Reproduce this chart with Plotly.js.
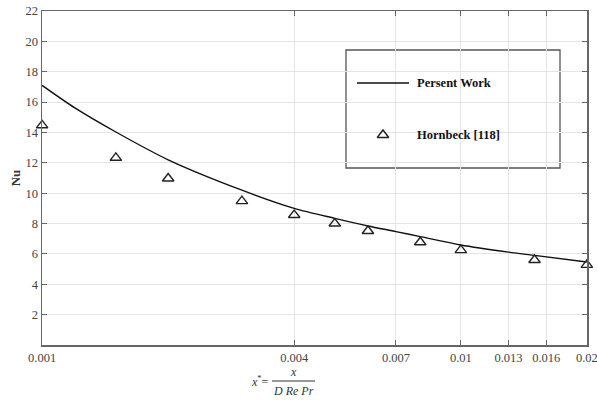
<!DOCTYPE html>
<html>
<head>
<meta charset="utf-8">
<script src="https://cdn.plot.ly/plotly-3.0.1.min.js"></script>
<style>html,body{margin:0;padding:0;background:#fff;}#chart{width:597px;height:400px;}</style>
</head>
<body>
<div id="chart"></div>
<script>
// Present work curve
const lineX = [0.001, 0.0012, 0.0015, 0.002, 0.003, 0.004, 0.005, 0.006, 0.007, 0.008, 0.01, 0.013, 0.015, 0.02];
const lineNu = [17.1, 15.6, 14.03, 12.2, 10.2, 9.0, 8.34, 7.84, 7.47, 7.14, 6.59, 6.12, 5.9, 5.47];
// Hornbeck [118]
const hornX = [0.001, 0.0015, 0.002, 0.003, 0.004, 0.005, 0.006, 0.008, 0.01, 0.015, 0.02];
const hornNu = [14.47, 12.33, 10.97, 9.48, 8.56, 8.0, 7.51, 6.77, 6.25, 5.6, 5.28];
const xTicks = [0.001, 0.004, 0.007, 0.01, 0.013, 0.016, 0.02];
const xTickText = ['0.001', '0.004', '0.007', '0.01', '0.013', '0.016', '0.02'];
const yTicks = [2, 4, 6, 8, 10, 12, 14, 16, 18, 20, 22];
const seriesNames = ['Persent Work', 'Hornbeck [118]'];

const W = 597, H = 400;
const M = {l: 42, r: 10, t: 11, b: 55};
const pw = W - M.l - M.r, ph = H - M.t - M.b;
const px = x => (x - M.l) / pw;
const py = y => (H - M.b - y) / ph;

const serif = "'Liberation Serif', 'Times New Roman', serif";

const traces = [
  {x: lineX, y: lineNu, type: 'scatter', mode: 'lines', name: seriesNames[0],
   line: {color: '#111', width: 1.4, shape: 'spline', smoothing: 0.8}, hoverinfo: 'skip'},
  {x: hornX, y: hornNu, type: 'scatter', mode: 'markers', name: seriesNames[1],
   marker: {symbol: 'triangle-up-open', size: 10, color: '#222', line: {width: 1.4, color: '#222'}}, cliponaxis: false},
  // legend symbol (overlay axes in paper-like units)
  {x: [px(383)], y: [py(135)], xaxis: 'x2', yaxis: 'y2', type: 'scatter', mode: 'markers',
   marker: {symbol: 'triangle-up-open', size: 10, color: '#222', line: {width: 1.4, color: '#222'}}, hoverinfo: 'skip'}
];

const axisCommon = {
  showline: true, linecolor: '#666', linewidth: 1.5, mirror: 'ticks',
  ticks: 'inside', ticklen: 5, tickwidth: 1, tickcolor: '#666',
  showgrid: true, gridcolor: '#e4e4e4', gridwidth: 1, zeroline: false,
  ticklabeloverflow: 'allow',
  tickfont: {family: serif, size: 12.5, color: '#444'}
};

const layout = {
  width: W, height: H,
  margin: M,
  paper_bgcolor: '#fff', plot_bgcolor: '#fff',
  showlegend: false,
  xaxis: Object.assign({}, axisCommon, {
    type: 'log', range: [Math.log10(0.001) - 0.0003, Math.log10(0.02) + 0.0003],
    tickvals: xTicks, ticktext: xTickText
  }),
  yaxis: Object.assign({}, axisCommon, {
    range: [0, 22], tickvals: yTicks,
    title: {text: '<b>Nu</b>', font: {family: serif, size: 13, color: '#333'}, standoff: 2}
  }),
  xaxis2: {overlaying: 'x', range: [0, 1], visible: false, fixedrange: true},
  yaxis2: {overlaying: 'y', range: [0, 1], visible: false, fixedrange: true},
  shapes: [
    {type: 'rect', xref: 'paper', yref: 'paper', x0: px(346), x1: px(560), y0: py(50), y1: py(168),
     line: {color: '#555', width: 1.3}, fillcolor: '#fff', layer: 'between'},
    {type: 'line', xref: 'paper', yref: 'paper', x0: px(357), x1: px(409), y0: py(83), y1: py(83),
     line: {color: '#111', width: 1.4}},
    {type: 'line', xref: 'paper', yref: 'paper', x0: px(272), x1: px(315), y0: py(381), y1: py(381),
     line: {color: '#333', width: 1}}
  ],
  annotations: [
    {xref: 'paper', yref: 'paper', x: px(415), y: py(83), xanchor: 'left', yanchor: 'middle', showarrow: false,
     text: '<b>' + seriesNames[0] + '</b>', font: {family: serif, size: 12.5, color: '#111'}},
    {xref: 'paper', yref: 'paper', x: px(415), y: py(135), xanchor: 'left', yanchor: 'middle', showarrow: false,
     text: '<b>' + seriesNames[1] + '</b>', font: {family: serif, size: 12.5, color: '#111'}},
    {xref: 'paper', yref: 'paper', x: px(271), y: py(381), xanchor: 'right', yanchor: 'middle', showarrow: false,
     text: '<i>x</i><sup>*</sup>=', font: {family: serif, size: 12, color: '#333'}},
    {xref: 'paper', yref: 'paper', x: px(293.5), y: py(372), xanchor: 'center', yanchor: 'middle', showarrow: false,
     text: '<i>x</i>', font: {family: serif, size: 12, color: '#333'}},
    {xref: 'paper', yref: 'paper', x: px(293.5), y: py(391), xanchor: 'center', yanchor: 'middle', showarrow: false,
     text: '<i>D Re Pr</i>', font: {family: serif, size: 12, color: '#333'}}
  ]
};

Plotly.newPlot('chart', traces, layout, {displayModeBar: false, staticPlot: true});
</script>
</body>
</html>
